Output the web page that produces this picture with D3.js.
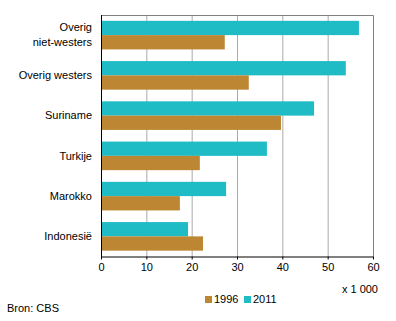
<!DOCTYPE html>
<html><head><meta charset="utf-8">
<script src="https://cdn.jsdelivr.net/npm/d3@7"></script>
<style>body{margin:0;background:#fff}svg{display:block;font-family:"Liberation Sans",Arial,sans-serif}</style>
</head><body><svg id="c" width="396" height="321"></svg>
<script>
const categories = ["Overig\nniet-westers","Overig westers","Suriname","Turkije","Marokko","Indonesië"];
const values1996 = [27.3, 32.6, 39.7, 21.8, 17.4, 22.5];
const values2011 = [56.9, 54.0, 47.0, 36.6, 27.6, 19.2];
const seriesNames = ["1996","2011"];
const xTicks = [0,10,20,30,40,50,60];
const colors = {"1996":"#bd8632","2011":"#1fbcc6"};

const svg = d3.select("#c");
const L=101, R=373, T=15, B=256.5;
const x = d3.scaleLinear().domain([0,60]).range([L,R]);
const y = d3.scaleBand().domain(categories).range([T,B]).paddingInner(0.29).paddingOuter(0.145);
const sub = d3.scaleBand().domain(["2011","1996"]).range([0,y.bandwidth()]);

// gridlines
svg.append("g").selectAll("line").data(xTicks.slice(1,-1)).join("line")
  .attr("x1",d=>x(d)+0.5).attr("x2",d=>x(d)+0.5).attr("y1",T).attr("y2",B)
  .attr("stroke","#aaaaaa").attr("stroke-width",1);
// frame top/right
svg.append("path").attr("d",`M${L},${T+0.5}H${R+0.5}V${B}`).attr("fill","none").attr("stroke","#808080");

// bars
const data = categories.map((c,i)=>({c, v:{"1996":values1996[i],"2011":values2011[i]}}));
const g = svg.append("g").selectAll("g").data(data).join("g").attr("transform",d=>`translate(0,${y(d.c)})`);
g.selectAll("rect").data(d=>["2011","1996"].map(s=>({s,v:d.v[s]}))).join("rect")
  .attr("x",x(0)).attr("y",d=>sub(d.s)).attr("width",d=>x(d.v)-x(0)).attr("height",sub.bandwidth())
  .attr("fill",d=>colors[d.s]);

// axes
const xa = svg.append("g").attr("transform",`translate(0,${B})`)
  .call(d3.axisBottom(x).tickValues(xTicks).tickSize(3).tickPadding(4).tickSizeOuter(0));
xa.select(".domain").attr("stroke","#000");
xa.selectAll("text").attr("font-size",11).attr("fill","#000").attr("font-family","Liberation Sans, Arial, sans-serif");
svg.append("line").attr("x1",L+0.5).attr("x2",L+0.5).attr("y1",T).attr("y2",B+0.5).attr("stroke","#000");

// category labels
svg.append("g").selectAll("text").data(categories).join("text")
  .attr("text-anchor","end").attr("font-size",11).attr("fill","#000")
  .each(function(d){
    const lines=d.split("\n"); const cy=y(d)+y.bandwidth()/2;
    const t=d3.select(this);
    lines.forEach((ln,i)=>{
      t.append("tspan").attr("x",92).attr("y",cy+(i-(lines.length-1)/2)*15).attr("dy","0.35em").text(ln);
    });
  });

svg.append("text").attr("x",R+5).attr("y",289).attr("dy","0.35em").attr("text-anchor","end").attr("font-size",11).text("x 1 000");

// legend
const lg = svg.append("g").selectAll("g").data(seriesNames).join("g")
  .attr("transform",(d,i)=>`translate(${[205,244][i]},296)`);
lg.append("rect").attr("width",7).attr("height",7).attr("fill",d=>colors[d]);
lg.append("text").attr("x",9).attr("y",3.5).attr("dy","0.35em").attr("font-size",11).text(d=>d);

svg.append("text").attr("x",7).attr("y",308).attr("dy","0.35em").attr("font-size",11).text("Bron: CBS");
</script></body></html>
